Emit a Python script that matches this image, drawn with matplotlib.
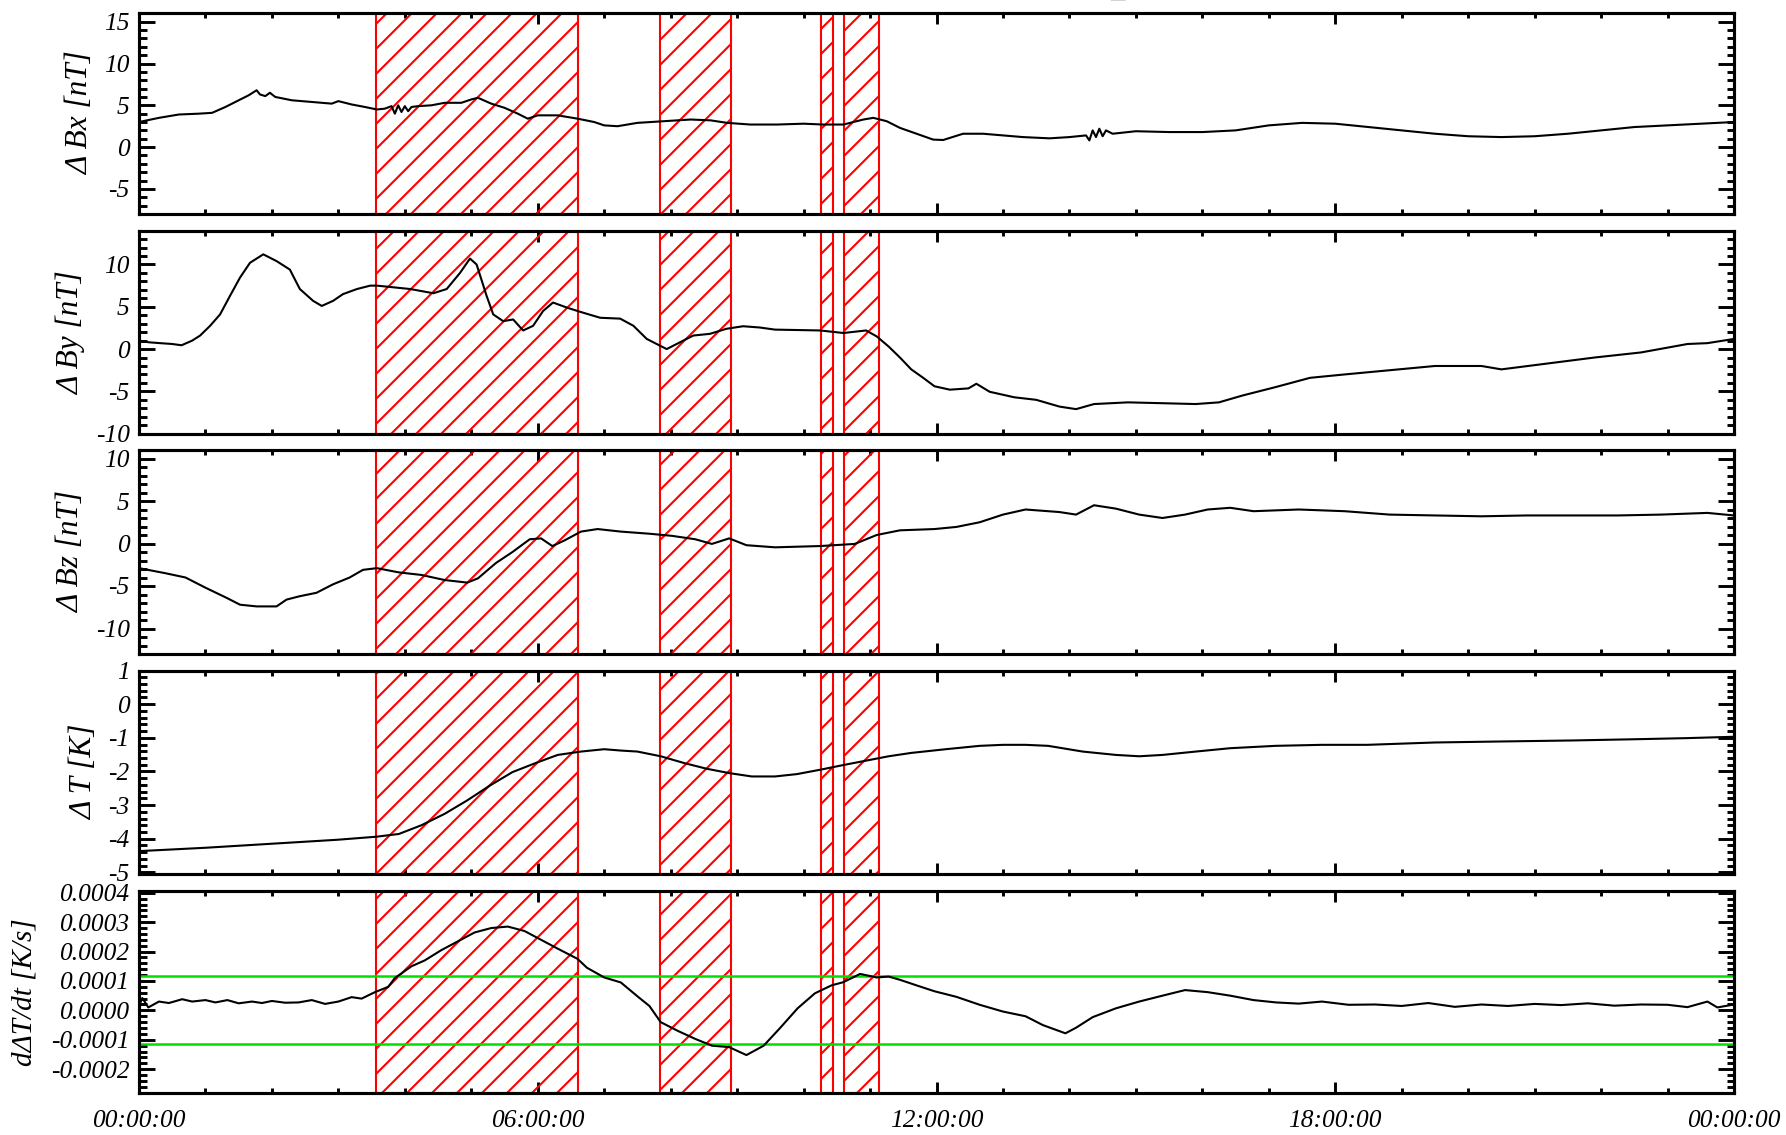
import matplotlib
matplotlib.use("Agg")
import matplotlib.pyplot as plt
from matplotlib.ticker import MultipleLocator, FixedLocator, FixedFormatter

plt.rcParams['font.family'] = ['Liberation Serif', 'DejaVu Serif']
plt.rcParams['font.style'] = 'italic'
plt.rcParams['axes.unicode_minus'] = False
plt.rcParams['hatch.linewidth'] = 1.0

# ---------------- data (time in hours since 00:00:00) ----------------
bx_t = [0.0, 0.3, 0.6, 0.9, 1.1, 1.3, 1.5, 1.65, 1.77, 1.82, 1.9, 1.97, 2.05, 2.3, 2.6, 2.9, 3.0,
        3.2, 3.4, 3.58, 3.7, 3.8, 3.85, 3.9, 3.95, 4.0, 4.05, 4.1, 4.2, 4.4, 4.6, 4.85, 5.0, 5.1,
        5.3, 5.5, 5.7, 5.85, 6.0, 6.3, 6.6, 6.85, 7.0, 7.2, 7.5, 7.9, 8.3, 8.6, 8.85, 9.2, 9.6,
        10.0, 10.3, 10.6, 10.9, 11.05, 11.25, 11.45, 11.7, 11.95, 12.1, 12.4, 12.7, 13.0, 13.3,
        13.7, 14.0, 14.25, 14.3, 14.35, 14.4, 14.45, 14.5, 14.55, 14.65, 15.0, 15.5, 16.0, 16.5,
        17.0, 17.5, 18.0, 18.5, 19.0, 19.5, 20.0, 20.5, 21.0, 21.5, 22.0, 22.5, 23.0, 23.5, 24.0]
bx_v = [3.0, 3.5, 3.9, 4.0, 4.1, 4.8, 5.6, 6.2, 6.8, 6.3, 6.1, 6.5, 6.0, 5.6, 5.4, 5.2, 5.5,
        5.1, 4.8, 4.5, 4.6, 4.9, 4.0, 5.0, 4.2, 4.9, 4.3, 4.8, 4.9, 5.0, 5.3, 5.3, 5.7, 5.9,
        5.2, 4.7, 4.0, 3.4, 3.8, 3.8, 3.4, 3.0, 2.6, 2.5, 2.9, 3.1, 3.3, 3.2, 2.9, 2.7, 2.7,
        2.8, 2.7, 2.7, 3.3, 3.5, 3.1, 2.3, 1.6, 0.9, 0.85, 1.6, 1.6, 1.4, 1.2,
        1.05, 1.2, 1.4, 0.8, 2.0, 1.2, 2.2, 1.3, 2.0, 1.6, 1.9, 1.8, 1.8, 2.0,
        2.6, 2.9, 2.8, 2.4, 2.0, 1.6, 1.3, 1.2, 1.3, 1.6, 2.0, 2.4, 2.6, 2.8, 3.0]

by_t = [0.0, 0.15, 0.32, 0.5, 0.64, 0.8, 0.92, 1.07, 1.22, 1.37, 1.52, 1.67, 1.87, 2.07, 2.27,
        2.42, 2.62, 2.75, 2.92, 3.07, 3.28, 3.48, 3.58, 3.83, 4.08, 4.43, 4.63, 4.83, 4.98, 5.08,
        5.23, 5.33, 5.48, 5.63, 5.78, 5.93, 6.08, 6.23, 6.44, 6.64, 6.94, 7.24, 7.44, 7.64, 7.84,
        7.94, 8.14, 8.34, 8.59, 8.84, 9.09, 9.34, 9.57, 10.25, 10.6, 10.94, 11.1, 11.28, 11.45,
        11.62, 11.8, 11.97, 12.2, 12.48, 12.6, 12.8, 13.17, 13.5, 13.85, 14.1, 14.37, 14.88, 15.4,
        15.9, 16.25, 16.6, 17.1, 17.62, 18.14, 18.82, 19.5, 20.2, 20.5, 21.2, 21.9, 22.6, 23.3,
        23.6, 24.0]
by_v = [1.0, 0.8, 0.7, 0.6, 0.45, 1.0, 1.6, 2.75, 4.1, 6.3, 8.45, 10.2, 11.2, 10.4, 9.4,
        7.1, 5.7, 5.1, 5.7, 6.5, 7.1, 7.5, 7.5, 7.3, 7.1, 6.6, 7.1, 9.0, 10.7, 10.0,
        6.3, 4.1, 3.3, 3.5, 2.2, 2.75, 4.5, 5.5, 4.9, 4.4, 3.7, 3.6, 2.75, 1.2, 0.4,
        0.0, 0.8, 1.6, 1.8, 2.4, 2.7, 2.55, 2.3, 2.2, 1.9, 2.2, 1.5, 0.3, -1.0,
        -2.4, -3.4, -4.4, -4.8, -4.65, -4.1, -5.05, -5.7, -6.0, -6.8, -7.1, -6.5, -6.3, -6.4,
        -6.5, -6.3, -5.5, -4.5, -3.4, -3.0, -2.5, -2.0, -2.0, -2.4, -1.7, -1.0, -0.4, 0.6,
        0.7, 1.2]

bz_t = [0.0, 0.4, 0.7, 1.0, 1.32, 1.52, 1.77, 2.07, 2.22, 2.42, 2.67, 2.92, 3.17, 3.37, 3.58,
        3.91, 4.25, 4.6, 4.94, 5.1, 5.37, 5.62, 5.88, 6.05, 6.22, 6.4, 6.65, 6.9, 7.25, 7.68,
        8.02, 8.37, 8.62, 8.88, 9.14, 9.57, 10.25, 10.77, 11.1, 11.45, 11.97, 12.3, 12.65, 13.0,
        13.34, 13.85, 14.1, 14.37, 14.7, 15.05, 15.4, 15.74, 16.08, 16.42, 16.77, 17.45, 18.14,
        18.82, 19.5, 20.2, 20.88, 21.57, 22.25, 22.9, 23.6, 24.0]
bz_v = [-2.9, -3.5, -4.0, -5.2, -6.4, -7.2, -7.4, -7.4, -6.6, -6.2, -5.8, -4.8, -4.0, -3.1, -2.9,
        -3.4, -3.7, -4.3, -4.6, -4.1, -2.3, -1.0, 0.5, 0.6, -0.3, 0.35, 1.4, 1.7, 1.4, 1.15,
        0.9, 0.5, -0.05, 0.6, -0.2, -0.45, -0.3, -0.05, 1.0, 1.55, 1.7, 1.95, 2.5, 3.4,
        4.0, 3.7, 3.4, 4.5, 4.1, 3.4, 3.0, 3.4, 4.0, 4.2, 3.8, 4.0, 3.8,
        3.4, 3.3, 3.2, 3.3, 3.3, 3.3, 3.4, 3.6, 3.3]

dt_t = [0.0, 1.0, 2.0, 3.0, 3.58, 3.91, 4.25, 4.6, 4.94, 5.28, 5.62, 5.97, 6.3, 6.65, 7.0, 7.25,
        7.5, 7.85, 8.2, 8.54, 8.88, 9.22, 9.57, 9.9, 10.25, 10.6, 10.94, 11.28, 11.62, 12.14,
        12.65, 13.0, 13.34, 13.68, 14.2, 14.7, 15.05, 15.4, 15.9, 16.42, 17.1, 17.8, 18.48,
        19.5, 20.5, 21.57, 22.6, 23.3, 24.0]
dt_v = [-4.37, -4.27, -4.15, -4.03, -3.94, -3.86, -3.6, -3.26, -2.86, -2.42, -2.02, -1.75, -1.51,
        -1.41, -1.34, -1.38, -1.41, -1.55, -1.75, -1.92, -2.05, -2.15, -2.15, -2.08, -1.95,
        -1.81, -1.68, -1.55, -1.45, -1.34, -1.24, -1.21, -1.21, -1.24, -1.41, -1.51, -1.55,
        -1.51, -1.41, -1.31, -1.24, -1.21, -1.21, -1.14, -1.11, -1.08, -1.04, -1.01, -0.97]

rate_t = [0.0, 0.05, 0.14, 0.3, 0.45, 0.65, 0.8, 1.0, 1.15, 1.33, 1.5, 1.7, 1.85, 2.0, 2.2,
          2.4, 2.6, 2.8, 3.0, 3.2, 3.35, 3.55, 3.75, 3.85, 4.1, 4.3, 4.55, 4.8, 5.05, 5.3, 5.55,
          5.8, 6.05, 6.3, 6.6, 6.74, 7.0, 7.25, 7.51, 7.68, 7.85, 8.11, 8.37, 8.62, 8.88, 9.14,
          9.4, 9.65, 9.91, 10.17, 10.42, 10.6, 10.85, 11.1, 11.28, 11.45, 11.7, 11.97, 12.3,
          12.65, 13.0, 13.34, 13.6, 13.94, 14.1, 14.35, 14.7, 15.05, 15.4, 15.74, 16.08, 16.42,
          16.77, 17.11, 17.45, 17.8, 18.2, 18.6, 19.0, 19.4, 19.8, 20.2, 20.6, 21.0, 21.4, 21.8,
          22.2, 22.6, 23.0, 23.3, 23.6, 23.75, 24.0]
rate_v = [0.15, 0.42, 0.1, 0.3, 0.25, 0.38, 0.3, 0.35, 0.27, 0.35, 0.24, 0.3, 0.25, 0.32, 0.26,
          0.27, 0.35, 0.22, 0.3, 0.45, 0.4, 0.62, 0.8, 1.1, 1.5, 1.7, 2.05, 2.35, 2.65, 2.8, 2.85,
          2.7, 2.4, 2.1, 1.75, 1.45, 1.12, 0.95, 0.46, 0.15, -0.4, -0.7, -0.97, -1.2, -1.25,
          -1.52, -1.2, -0.59, 0.07, 0.58, 0.85, 0.96, 1.24, 1.12, 1.15, 1.04, 0.85, 0.65, 0.46,
          0.19, -0.04, -0.2, -0.5, -0.78, -0.59, -0.23, 0.07, 0.3, 0.5, 0.69, 0.62, 0.5, 0.35,
          0.27, 0.23, 0.3, 0.19, 0.2, 0.15, 0.25, 0.12, 0.2, 0.15, 0.22, 0.18, 0.24, 0.16, 0.2,
          0.19, 0.11, 0.3, 0.1, 0.2]
rate_v = [v * 1e-4 for v in rate_v]

threshold = 1.16e-4

# shaded event intervals (hours)
event_start = [3.566, 7.844, 10.257, 10.612]
event_end = [6.610, 8.908, 10.447, 11.134]

ylabels = ['Δ Bx [nT]', 'Δ By [nT]', 'Δ Bz [nT]', 'Δ T [K]', 'dΔT/dt [K/s]']
xtick_pos = [0, 6, 12, 18, 24]
xtick_lab = ['00:00:00', '06:00:00', '12:00:00', '18:00:00', '00:00:00']

# ---------------- figure ----------------
W, H = 1786, 1135
dpi = 150
fig = plt.figure(figsize=(W / dpi, H / dpi), dpi=dpi)

left_px, right_px = 139, 1734
panels_px = [(12.5, 214), (231.5, 434.5), (450, 654), (670.5, 874), (891, 1093)]
label_center_px = [77, 68, 68, 81, 21]
label_sizes = [15, 15, 15, 15, 14]
label_half = [18, 18, 18, 18, 17]

series = [(bx_t, bx_v), (by_t, by_v), (bz_t, bz_v), (dt_t, dt_v), (rate_t, rate_v)]
ylims = [(-8, 16.1), (-10.1, 13.9), (-13.0, 11.0), (-5.05, 1.0), (-0.000281, 0.000406)]
ymajor = [5, 5, 5, 1, None]
yminor = [1, 1, 1, 0.2, 2e-5]

for i, (top, bot) in enumerate(panels_px):
    ax = fig.add_axes([left_px / W, 1 - bot / H, (right_px - left_px) / W, (bot - top) / H])
    t, v = series[i]
    ax.plot(t, v, color='black', lw=1.0, zorder=3)
    for s, e in zip(event_start, event_end):
        ax.axvspan(s, e, facecolor='none', edgecolor='red', hatch='//', lw=1.0, zorder=2)
    ax.set_xlim(0, 24)
    ax.set_ylim(*ylims[i])
    ax.xaxis.set_major_locator(FixedLocator(xtick_pos))
    ax.xaxis.set_minor_locator(MultipleLocator(1))
    if i == 4:
        ax.yaxis.set_major_locator(FixedLocator([-2e-4, -1e-4, 0.0, 1e-4, 2e-4, 3e-4, 4e-4]))
        ax.yaxis.set_major_formatter(FixedFormatter(['-0.0002', '-0.0001', '0.0000', '0.0001',
                                                     '0.0002', '0.0003', '0.0004']))
        ax.axhline(threshold, color='#00e000', lw=1.2, zorder=2.5)
        ax.axhline(-threshold, color='#00e000', lw=1.2, zorder=2.5)
        ax.set_xticklabels(xtick_lab)
    else:
        ax.yaxis.set_major_locator(MultipleLocator(ymajor[i]))
        ax.set_xticklabels([])
    ax.yaxis.set_minor_locator(MultipleLocator(yminor[i]))
    ax.tick_params(axis='both', which='both', direction='in', top=True, right=True,
                   labelsize=12.2, width=1.4, colors='black')
    ax.tick_params(axis='y', which='major', length=7.5, pad=4.5)
    ax.tick_params(axis='y', which='minor', length=3.6)
    ax.tick_params(axis='x', which='major', length=5.2, pad=8)
    ax.tick_params(axis='x', which='minor', length=2.2)
    for sp in ax.spines.values():
        sp.set_linewidth(1.5)
        sp.set_zorder(4)
    ax.set_ylabel(ylabels[i], fontsize=label_sizes[i])
    ax.yaxis.set_label_coords((label_center_px[i] + label_half[i] - left_px) / (right_px - left_px), 0.5)

fig.text(1118 / W, 1 + 2 / H, '_', ha='center', va='baseline', fontsize=14)

fig.savefig('out.png', dpi=dpi)
